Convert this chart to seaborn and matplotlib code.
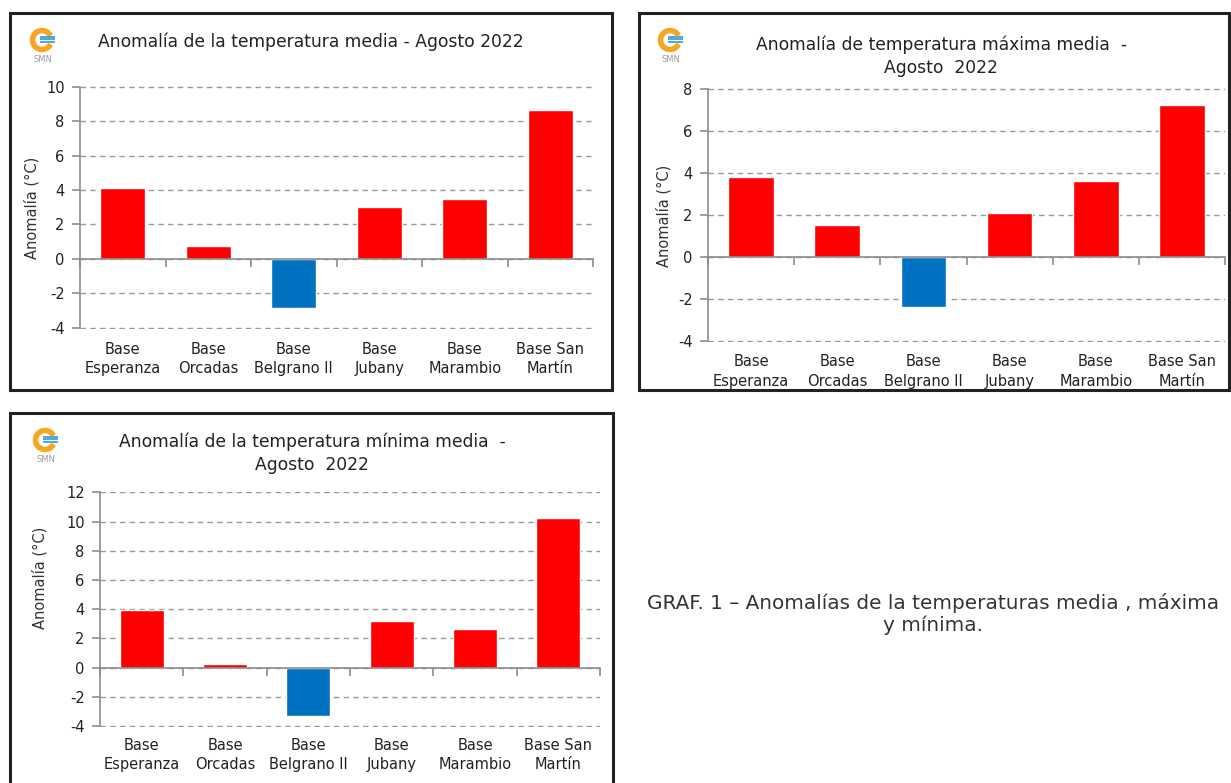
import numpy as np
import pandas as pd
import seaborn as sns
import matplotlib.pyplot as plt
from matplotlib.patches import Rectangle, Wedge

sns.set_style("white")
plt.rcParams['font.family'] = ['DejaVu Sans']
plt.rcParams['axes.unicode_minus'] = False

# datos (anomalias en °C, agosto 2022)
bases = ["Base\nEsperanza", "Base\nOrcadas", "Base\nBelgrano II",
         "Base\nJubany", "Base\nMarambio", "Base San\nMartín"]
media = [4.1, 0.75, -2.85, 3.0, 3.5, 8.65]
maxima = [3.8, 1.5, -2.4, 2.1, 3.6, 7.2]
minima = [3.95, 0.25, -3.3, 3.2, 2.65, 10.25]

W, H = 1231, 783
ROJO = '#FF0000'
AZUL = '#0070C0'
GRIS = '#8C8C8C'

fig = plt.figure(figsize=(W / 100, H / 100), dpi=100)


def rect_px(x0, y0, x1, y1):
    # pixeles (origen arriba a la izquierda) -> coordenadas de figura
    return [x0 / W, 1 - y1 / H, (x1 - x0) / W, (y1 - y0) / H]


def logo(cx, cy):
    a = fig.add_axes(rect_px(cx - 15, cy - 14, cx + 15, cy + 14))
    a.set_xlim(-1.3, 1.3)
    a.set_ylim(-1.2, 1.2)
    a.set_aspect('equal')
    a.axis('off')
    a.add_patch(Wedge((0, 0), 1.0, 30, 330, width=0.36, color='#F5A623'))
    for yy in [0.3, 0.05, -0.2]:
        a.plot([-0.15, 1.15], [yy, yy], color='#3FA0DC', lw=1.3, solid_capstyle='butt')
    fig.text((cx + 1) / W, 1 - (cy + 20) / H, "SMN", fontsize=6, color='#9A9A9A',
             ha='center', va='center')


def panel(box, axbox, valores, ymin, ymax, titulo, tit_xy, ylab_xy, logo_xy, pad):
    fig.patches.append(Rectangle((box[0] / W, 1 - box[3] / H), (box[2] - box[0]) / W,
                                 (box[3] - box[1]) / H, transform=fig.transFigure,
                                 fill=False, edgecolor='#222222', lw=2.2, zorder=5))
    ax = fig.add_axes(rect_px(*axbox))
    df = pd.DataFrame({'base': bases, 'valor': valores})
    colores = [ROJO if v > 0 else AZUL for v in valores]
    sns.barplot(data=df, x='base', y='valor', hue='base', palette=colores,
                legend=False, width=0.53, saturation=1, ax=ax, zorder=3)
    ax.set_xlim(-0.5, 5.5)
    ax.set_ylim(ymin - 0.06, ymax + 0.03)
    ax.set_yticks(np.arange(ymin, ymax + 1, 2))
    ax.yaxis.grid(True, linestyle=(0, (4, 3)), color='#9A9A9A', lw=1)
    ax.set_axisbelow(True)
    for s in ['top', 'right']:
        ax.spines[s].set_visible(False)
    ax.spines['left'].set_color(GRIS)
    ax.spines['left'].set_linewidth(1.2)
    ax.spines['left'].set_bounds(ymin, ymax)
    ax.spines['bottom'].set_position(('data', 0))
    ax.spines['bottom'].set_color(GRIS)
    ax.spines['bottom'].set_linewidth(1.2)
    ax.spines['bottom'].set_zorder(4)
    ax.set_xticks(np.arange(-0.5, 6, 1), minor=True)
    ax.tick_params(axis='x', which='major', bottom=False, labelbottom=False)
    ax.tick_params(axis='x', which='minor', bottom=True, length=6, width=1.2,
                   color=GRIS, direction='out')
    ax.tick_params(axis='y', left=True, length=6, width=1.2, color=GRIS, direction='out',
                   labelsize=10.5, labelcolor='#222222', pad=5)
    ax.set_xlabel('')
    ax.set_ylabel('')
    sec = ax.secondary_xaxis('bottom')
    sec.set_xticks(range(len(bases)))
    sec.set_xticklabels(bases, fontsize=10.5, color='#222222', linespacing=1.35)
    sec.tick_params(length=0, pad=pad)
    sec.spines['bottom'].set_visible(False)
    fig.text(tit_xy[0] / W, 1 - tit_xy[1] / H, titulo, fontsize=12.3, color='#222222',
             ha='center', va='center', linespacing=1.35)
    fig.text(ylab_xy[0] / W, 1 - ylab_xy[1] / H, "Anomalía (°C)", fontsize=10.5,
             color='#333333', rotation=90, ha='center', va='center')
    logo(*logo_xy)
    return ax


panel((10, 13, 612, 390), (80, 86, 593, 329), media, -4, 10,
      "Anomalía de la temperatura media - Agosto 2022", (311, 42), (32, 208), (42, 40), 9)
panel((639, 13, 1229, 390), (708, 88, 1225, 342), maxima, -4, 8,
      "Anomalía de temperatura máxima media  -\nAgosto  2022", (941, 56), (664, 216), (670, 40), 9)
panel((10, 413, 613, 790), (100, 492, 600, 727), minima, -4, 12,
      "Anomalía de la temperatura mínima media  -\nAgosto  2022", (312, 453), (40, 578), (45, 440), 8)

# tapa el texto que queda fuera del recuadro del segundo grafico
fig.patches.append(Rectangle((630 / W, 1 - 411 / H), 601 / W, 20 / H, transform=fig.transFigure,
                             facecolor='white', edgecolor='none', zorder=4))

fig.text(933 / W, 1 - 614 / H, "GRAF. 1 – Anomalías de la temperaturas media , máxima\ny mínima.",
         fontsize=14.4, color='#333333', ha='center', va='center', linespacing=1.2)

fig.savefig('out.png', dpi=100)
